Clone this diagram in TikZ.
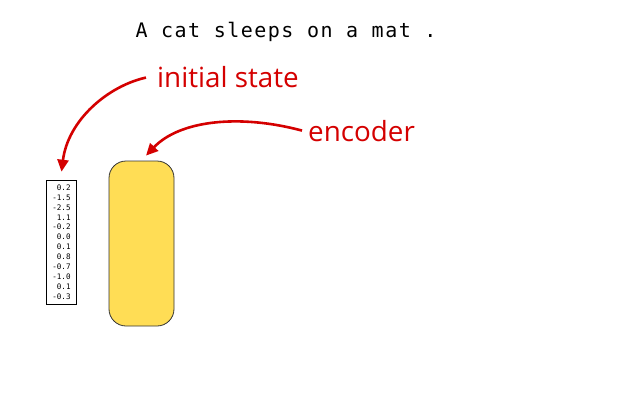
\documentclass[tikz,border=0pt]{standalone}
\usepackage{fontspec}
\setmainfont{Open Sans}
\newfontfamily\monofont{DejaVu Sans Mono}
\newfontfamily\sentfont[LetterSpace=7.5]{DejaVu Sans Mono}
\usetikzlibrary{arrows.meta}
\definecolor{arrred}{RGB}{212,0,0}
\definecolor{encyellow}{RGB}{255,221,85}
\tikzset{
  redlabel/.style={text=arrred, font=\fontsize{27.8}{32}\selectfont, inner sep=0pt, anchor=base west},
  redarrow/.style={draw=arrred, line width=2.6pt, -{Triangle[length=12pt,width=11pt]}},
  vecbox/.style={draw=black, line width=0.6pt, minimum width=30pt, minimum height=124pt, inner sep=0pt, align=right, font=\monofont\fontsize{7.6}{9.9}\selectfont},
  encbox/.style={draw=black!80, line width=0.8pt, fill=encyellow, rounded corners=17pt, minimum width=65pt, minimum height=165pt, inner sep=0pt},
}
\begin{document}
\begin{tikzpicture}[x=1pt,y=-1pt]
\useasboundingbox (0,0) rectangle (640,400);
\node[font=\sentfont\fontsize{20}{24}\selectfont, inner sep=0pt, anchor=base] (sent) at (286,37) {A cat sleeps on a mat .};
\node[redlabel] (initlab) at (157,87) {initial state};
\node[redlabel] (enclab) at (308,141) {encoder};
\node[vecbox] (vec) at (61.5,242) {0.2\\-1.5\\-2.5\\1.1\\-0.2\\0.0\\0.1\\0.8\\-0.7\\-1.0\\0.1\\-0.3};
\node[encbox] (enc) at (141.5,243.5) {};
\draw[redarrow] ([xshift=-11pt,yshift=-1pt]initlab.west) .. controls (108,86) and (68,120) .. ([yshift=8pt]vec.north);
\draw[redarrow] ([xshift=-6pt]enclab.west) .. controls (240,114) and (180,120) .. ([xshift=4.5pt,yshift=5pt]enc.north);
\end{tikzpicture}
\end{document}
